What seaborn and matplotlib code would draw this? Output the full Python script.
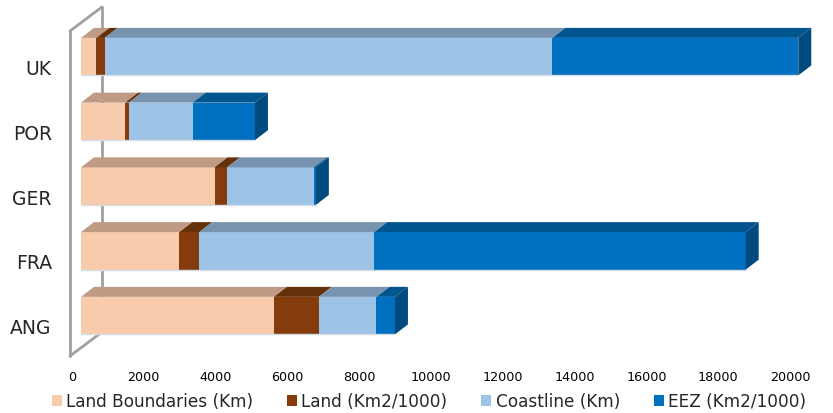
import numpy as np
import pandas as pd
import seaborn as sns
import matplotlib
matplotlib.use("Agg")
import matplotlib.pyplot as plt
from matplotlib.patches import Polygon, Patch
from matplotlib.lines import Line2D
from matplotlib.transforms import ScaledTranslation

# ---- data -------------------------------------------------------------
countries = ["UK", "POR", "GER", "FRA", "ANG"]
land_boundaries = [430, 1230, 3720, 2740, 5375]      # Km
land = [230, 100, 350, 555, 1250]                     # Km2/1000
coastline = [12470, 1780, 2415, 4875, 1605]           # Km
eez = [6850, 1735, 57, 10345, 515]                    # Km2/1000

series_names = ["Land Boundaries (Km)", "Land (Km2/1000)", "Coastline (Km)", "EEZ (Km2/1000)"]
x_ticks = [0, 2000, 4000, 6000, 8000, 10000, 12000, 14000, 16000, 18000, 20000]

# front / top / side shades for each series
front_colors = ["#F8CBAD", "#843C0C", "#9DC3E6", "#0070C0"]
top_colors = ["#BF9A84", "#63300A", "#7893AF", "#00558F"]
side_colors = ["#BF9A84", "#5A2A08", "#6E87A0", "#004A7F"]

df = pd.DataFrame({
    "country": countries,
    series_names[0]: land_boundaries,
    series_names[1]: land,
    series_names[2]: coastline,
    series_names[3]: eez,
})
cum = df[series_names].cumsum(axis=1)

# ---- figure -----------------------------------------------------------
W, H, DPI = 833, 414, 100
fig = plt.figure(figsize=(W / DPI, H / DPI), dpi=DPI)
sns.set_style("white")
plt.rcParams["font.family"] = ["DejaVu Sans"]

ax_left, ax_right = 81, 799
ax_top, ax_bot = 24, 349
ax = fig.add_axes([ax_left / W, 1 - ax_bot / H, (ax_right - ax_left) / W, (ax_bot - ax_top) / H])

bar_h = 0.58
# stacked front faces: draw the running totals from largest to smallest
for k in range(len(series_names) - 1, -1, -1):
    sns.barplot(data=cum, x=series_names[k], y=df["country"], orient="h",
                color=front_colors[k], saturation=1, width=bar_h, ax=ax,
                edgecolor="none", linewidth=0)

xmin, xmax = 0, 20000
ax.set_xlim(xmin, xmax)
ax.set_ylim(4.5, -0.52)

# depth of the bars, converted from pixels to data units
px_per_x = (ax_right - ax_left) / (xmax - xmin)
px_per_y = (ax_bot - ax_top) / (4.5 + 0.52)
ddx = 13 / px_per_x
ddy = 10 / px_per_y

for i in range(len(countries)):
    y_top = i - bar_h / 2
    y_bot = i + bar_h / 2
    left = 0
    for k, name in enumerate(series_names):
        right = cum.loc[i, name]
        top = Polygon([(left, y_top), (right, y_top), (right + ddx, y_top - ddy),
                       (left + ddx, y_top - ddy)], closed=True,
                      facecolor=top_colors[k], edgecolor="none", clip_on=False, zorder=3)
        ax.add_patch(top)
        left = right
    side = Polygon([(left, y_top), (left + ddx, y_top - ddy), (left + ddx, y_bot - ddy),
                    (left, y_bot)], closed=True, facecolor=side_colors[-1],
                   edgecolor="none", clip_on=False, zorder=3)
    ax.add_patch(side)
    # thin light rim along the bottom of the front face
    ax.plot([0, left], [y_bot, y_bot], color="#D5DCE4", lw=1, zorder=4,
            solid_capstyle="butt", clip_on=False)

# left wall outline (front edge, back edge, and the diagonals joining them)
wall_color = "#A0A0A0"
front_off = ax.transAxes + ScaledTranslation(-11 / DPI, -8 / DPI, fig.dpi_scale_trans)
back_off = ax.transAxes + ScaledTranslation(21 / DPI, 16 / DPI, fig.dpi_scale_trans)
ax.add_line(Line2D([0, 0], [0, 1], transform=front_off, color=wall_color, lw=2, clip_on=False, zorder=0))
ax.add_line(Line2D([0, 0], [0, 1], transform=back_off, color=wall_color, lw=2, clip_on=False, zorder=0))
for yy in (0, 1):
    p0 = front_off.transform((0, yy))
    p1 = back_off.transform((0, yy))
    ax.add_line(Line2D([p0[0], p1[0]], [p0[1], p1[1]], transform=None,
                       color=wall_color, lw=2, clip_on=False, zorder=0))

# axes styling
for s in ax.spines.values():
    s.set_visible(False)
ax.set_xlabel("")
ax.set_ylabel("")
ax.set_xticks(x_ticks)
ax.set_xticklabels([str(t) for t in x_ticks], fontsize=9.2, color="#000000")
ax.tick_params(axis="x", length=0, pad=16)
ax.tick_params(axis="y", length=0, pad=21, labelsize=13.5)
for lab in ax.get_xticklabels():
    lab.set_transform(lab.get_transform() + ScaledTranslation(-9 / DPI, 0, fig.dpi_scale_trans))
for lab in ax.get_yticklabels():
    lab.set_transform(lab.get_transform() + ScaledTranslation(0, -10 / DPI, fig.dpi_scale_trans))
ax.grid(False)

handles = [Patch(facecolor=c, edgecolor="none") for c in front_colors]
fig.legend(handles, series_names, loc="lower center", ncol=4, frameon=False,
           fontsize=12.2, handlelength=0.6, handleheight=0.6, handletextpad=0.25,
           columnspacing=2.0, bbox_to_anchor=(0.515, -0.03))

fig.savefig("out.png", dpi=DPI, facecolor="white")
